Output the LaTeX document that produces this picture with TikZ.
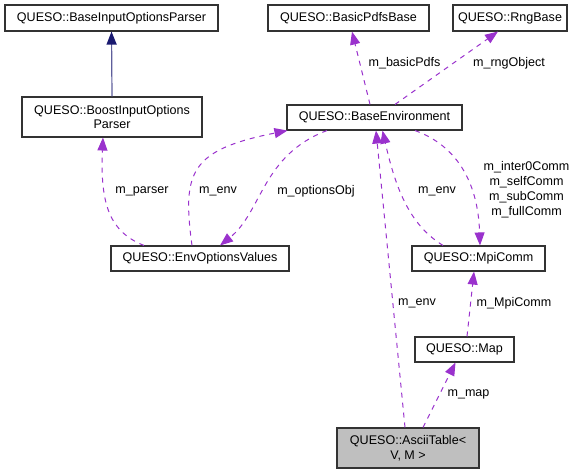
\documentclass[tikz,border=0pt]{standalone}
\usepackage{fontspec}
\setmainfont{Liberation Sans}
\usepackage{tikz}
\usetikzlibrary{arrows.meta}
\definecolor{orchid}{HTML}{9A32CD}
\definecolor{midblue}{HTML}{191970}
\definecolor{cellgray}{HTML}{BFBFBF}

\begin{document}
\begin{tikzpicture}[x=1bp,y=-1bp,font=\fontsize{12.6}{15}\selectfont,
  cls/.style={draw=black!80,line width=1.1bp,inner sep=0pt,align=center,minimum height=25bp},
  usage/.style={draw=orchid,line width=1bp,dash pattern=on 5bp off 5bp,-{Triangle[length=13bp,width=10bp,fill=orchid]}},
  inherit/.style={draw=midblue!70,line width=1.2bp,-{Triangle[length=13bp,width=10bp,fill=midblue,color=midblue]}},
  lbl/.style={inner sep=0pt,align=center}]

\useasboundingbox (0,0) rectangle (587,475);

\node[cls,minimum width=213bp,minimum height=26bp] (parser) at (111.5,18) {QUESO::BaseInputOptionsParser};
\node[cls,minimum width=161bp,minimum height=26bp] (pdfs) at (348.5,18) {QUESO::BasicPdfsBase};
\node[cls,minimum width=114bp,minimum height=26bp] (rng) at (510,18) {QUESO::RngBase};
\node[cls,minimum width=180bp,minimum height=40bp] (boost) at (112,117) {QUESO::BoostInputOptions\\Parser};
\node[cls,minimum width=175bp] (env) at (374.5,117.5) {QUESO::BaseEnvironment};
\node[cls,minimum width=178bp] (opts) at (200,258.5) {QUESO::EnvOptionsValues};
\node[cls,minimum width=133bp] (mpi) at (478.5,258.5) {QUESO::MpiComm};
\node[cls,minimum width=99bp] (map) at (464.5,349.5) {QUESO::Map};
\node[cls,minimum width=142bp,minimum height=40bp,fill=cellgray] (table) at (408,448) {QUESO::AsciiTable<\\V, M >};

\draw[inherit] (boost.north) -- (parser.south);

\draw[usage] ([xshift=-56bp]opts.north) .. controls (110,232) and (100,205) .. ([xshift=-9bp]boost.south);
\draw[usage] ([xshift=-8bp]opts.north) .. controls (182,172) and (190,150) .. ([xshift=1bp]env.south west);
\draw[usage] ([xshift=-47.5bp]env.south) .. controls (262,155) and (262,212) .. ([xshift=20bp]opts.north);
\draw[usage] ([xshift=-4.5bp]env.north) -- ([xshift=3.5bp]pdfs.south);
\draw[usage] ([xshift=20.5bp]env.north) -- ([xshift=-12bp]rng.south);
\draw[usage] ([xshift=40.5bp]env.south) .. controls (455,145) and (478,180) .. ([xshift=1.5bp]mpi.north);
\draw[usage] ([xshift=-35.5bp]mpi.north) .. controls (410,225) and (396,190) .. ([xshift=8bp]env.south);
\draw[usage] ([xshift=-3bp]table.north) -- ([xshift=1.5bp]env.south);
\draw[usage] ([xshift=2.5bp]map.north) -- ([xshift=-4.5bp]mpi.south);
\draw[usage] ([xshift=15bp]table.north) -- ([xshift=-9bp]map.south);

\node[lbl] (lparser) at (142,191) {m\_parser};
\node[lbl] (lenvopts) at (218,191) {m\_env};
\node[lbl] (lopts) at (316,191) {m\_optionsObj};
\node[lbl] (lpdfs) at (404.5,63) {m\_basicPdfs};
\node[lbl] (lrng) at (509,63) {m\_rngObject};
\node[lbl] (lcomm) at (526.5,190) {m\_inter0Comm\\m\_selfComm\\m\_subComm\\m\_fullComm};
\node[lbl] (lenvmpi) at (437,191) {m\_env};
\node[lbl] (lenvtable) at (417,303) {m\_env};
\node[lbl] (lmpi) at (514,303) {m\_MpiComm};
\node[lbl] (lmap) at (468.5,394) {m\_map};

\end{tikzpicture}
\end{document}
